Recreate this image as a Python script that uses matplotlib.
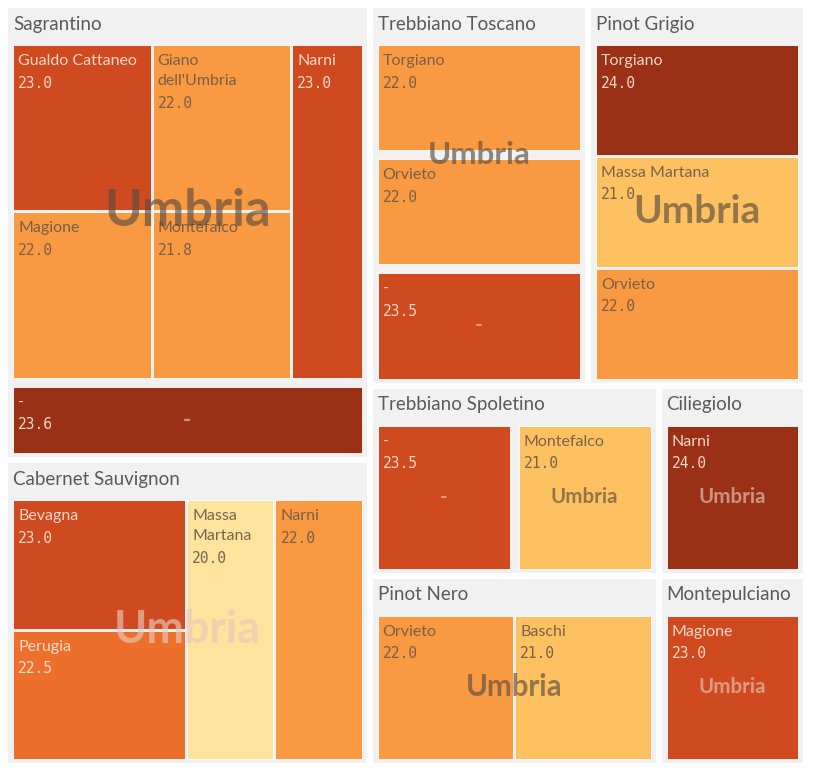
import matplotlib
matplotlib.use("Agg")
import matplotlib.pyplot as plt
from matplotlib.patches import Rectangle
from matplotlib.colors import ListedColormap, BoundaryNorm, to_rgb
import numpy as np

# ---- data: grape > region > town, value shown in each cell ----
grapes = ["Sagrantino", "Cabernet Sauvignon", "Trebbiano Toscano", "Pinot Grigio",
          "Trebbiano Spoletino", "Ciliegiolo", "Pinot Nero", "Montepulciano"]

cell_grape = ["Sagrantino", "Sagrantino", "Sagrantino", "Sagrantino", "Sagrantino", "Sagrantino",
              "Cabernet Sauvignon", "Cabernet Sauvignon", "Cabernet Sauvignon", "Cabernet Sauvignon",
              "Trebbiano Toscano", "Trebbiano Toscano", "Trebbiano Toscano",
              "Pinot Grigio", "Pinot Grigio", "Pinot Grigio",
              "Trebbiano Spoletino", "Trebbiano Spoletino",
              "Ciliegiolo",
              "Pinot Nero", "Pinot Nero",
              "Montepulciano"]
cell_region = ["Umbria", "Umbria", "Umbria", "Umbria", "Umbria", "-",
               "Umbria", "Umbria", "Umbria", "Umbria",
               "Umbria", "Umbria", "-",
               "Umbria", "Umbria", "Umbria",
               "-", "Umbria",
               "Umbria",
               "Umbria", "Umbria",
               "Umbria"]
cell_town = ["Gualdo Cattaneo", "Giano dell'Umbria", "Magione", "Montefalco", "Narni", "-",
             "Bevagna", "Perugia", "Massa Martana", "Narni",
             "Torgiano", "Orvieto", "-",
             "Torgiano", "Massa Martana", "Orvieto",
             "-", "Montefalco",
             "Narni",
             "Orvieto", "Baschi",
             "Magione"]
cell_value = [23.0, 22.0, 22.0, 21.8, 23.0, 23.6,
              23.0, 22.5, 20.0, 22.0,
              22.0, 22.0, 23.5,
              24.0, 21.0, 22.0,
              23.5, 21.0,
              24.0,
              22.0, 21.0,
              23.0]
cell_size = [1] * len(cell_town)   # every town counts once

# ---- layout (split orientation only, sizes come from cell_size) ----
GROUP_TREE = ("h", [("v", ["Sagrantino", "Cabernet Sauvignon"]),
                    ("v", [("h", ["Trebbiano Toscano", "Pinot Grigio"]),
                           ("h", [("v", ["Trebbiano Spoletino", "Pinot Nero"]),
                                  ("v", ["Ciliegiolo", "Montepulciano"])])])])
CELL_TREE = {
    "Sagrantino": ("v", [("h", [("v", [("h", ["Gualdo Cattaneo", "Giano dell'Umbria"]),
                                       ("h", ["Magione", "Montefalco"])]),
                                "Narni"]), "-"]),
    "Cabernet Sauvignon": ("h", [("v", ["Bevagna", "Perugia"]), "Massa Martana", "Narni"]),
    "Trebbiano Toscano": ("v", ["Torgiano", "Orvieto", "-"]),
    "Pinot Grigio": ("v", ["Torgiano", "Massa Martana", "Orvieto"]),
    "Trebbiano Spoletino": ("h", ["-", "Montefalco"]),
    "Ciliegiolo": "Narni",
    "Pinot Nero": ("h", ["Orvieto", "Baschi"]),
    "Montepulciano": "Magione",
}
# region labels drawn in a light tone (the rest are dark)
LIGHT_REGION_LABELS = {("Cabernet Sauvignon", "Umbria"), ("Ciliegiolo", "Umbria"),
                       ("Montepulciano", "Umbria")}

# binned colour classes
bounds = [19.5, 20.5, 21.5, 22.25, 22.75, 23.55, 24.5]
cmap = ListedColormap(["#fde39c", "#fec162", "#f99a42", "#ec6f2c", "#cf4a1e", "#9a3116"])
norm = BoundaryNorm(bounds, cmap.N)

W, H = 821, 779
fig = plt.figure(figsize=(W / 100, H / 100), dpi=100)
ax = fig.add_axes([0, 0, 1, 1])
ax.set_xlim(0, W)
ax.set_ylim(H, 0)
ax.axis("off")
renderer = fig.canvas.get_renderer()

NAME_FONT = "Lato"
NAME_FS = 11.5


def leaves(node):
    if isinstance(node, str):
        return [node]
    return [l for k in node[1] for l in leaves(k)]


def split(node, x, y, w, h, weight, gap, out):
    if isinstance(node, str):
        out[node] = (x, y, w, h)
        return
    orient, kids = node
    ws = [sum(weight(l) for l in leaves(k)) for k in kids]
    g = gap(node)
    avail = (w if orient == "h" else h) - g * (len(kids) - 1)
    pos = x if orient == "h" else y
    for k, wk in zip(kids, ws):
        size = avail * wk / sum(ws)
        if orient == "h":
            split(k, pos, y, size, h, weight, gap, out)
        else:
            split(k, x, pos, w, size, weight, gap, out)
        pos += size + g


def text_w(s, **kw):
    t = ax.text(0, 0, s, **kw)
    bb = t.get_window_extent(renderer)
    t.remove()
    return bb.width


def is_dark(c):
    r, g, b = to_rgb(c)
    return 0.2126 * r + 0.7152 * g + 0.0722 * b < 0.6


grape_count = {g: sum(cell_size[i] for i in range(len(cell_town)) if cell_grape[i] == g) for g in grapes}
group_rects = {}
split(GROUP_TREE, 8, 8, 795, 755, lambda g: grape_count[g], lambda n: 6, group_rects)

HEADER = 37
umbria_w10 = text_w("Umbria", fontsize=10, fontweight="bold", family=NAME_FONT)

for g in grapes:
    gx, gy, gw, gh = group_rects[g]
    ax.add_patch(Rectangle((gx, gy), gw, gh, facecolor="#f1f1f1", edgecolor="none"))
    ax.text(gx + 5, gy + 16, g, fontsize=13.5, color="#5a5a5a", va="center", ha="left",
            family=NAME_FONT)

    idx = [i for i in range(len(cell_town)) if cell_grape[i] == g]
    by_town = {cell_town[i]: i for i in idx}

    def gap_of(node):
        regs = {cell_region[by_town[t]] for t in leaves(node)}
        return 9 if len(regs) > 1 else 2

    rects = {}
    split(CELL_TREE[g], gx + 5, gy + HEADER, gw - 10, gh - HEADER - 4,
          lambda t: cell_size[by_town[t]], gap_of, rects)

    for t, (x, y, w, h) in rects.items():
        i = by_town[t]
        col = cmap(norm(cell_value[i]))
        ax.add_patch(Rectangle((x, y), w, h, facecolor=col, edgecolor="white", linewidth=0.6))
        tc = "#fbe3d8" if is_dark(col) else "#6e5a48"
        # wrap the town name to the cell width
        lines = []
        for wd in t.split(" "):
            cand = (lines[-1] + " " + wd) if lines else wd
            if lines and text_w(cand, fontsize=NAME_FS, family=NAME_FONT) > w - 15:
                lines.append(wd)
            elif lines:
                lines[-1] = cand
            else:
                lines.append(wd)
        ax.text(x + 5, y + 9, "\n".join(lines), fontsize=NAME_FS, color=tc, va="top", ha="left",
                family=NAME_FONT, linespacing=1.55, alpha=0.92)
        ax.text(x + 5, y + 10 + 20.5 * len(lines), f"{cell_value[i]:.1f}", fontsize=10.5,
                color=tc, va="top", ha="left", family="DejaVu Sans Mono", alpha=0.92)

    # region labels in the middle of each region
    for reg in dict.fromkeys(cell_region[i] for i in idx):
        towns = [cell_town[i] for i in idx if cell_region[i] == reg]
        x0 = min(rects[t][0] for t in towns)
        y0 = min(rects[t][1] for t in towns)
        x1 = max(rects[t][0] + rects[t][2] for t in towns)
        y1 = max(rects[t][1] + rects[t][3] for t in towns)
        light = reg == "-" or (g, reg) in LIGHT_REGION_LABELS
        fs = 10 * 0.49 * np.sqrt((x1 - x0) * (y1 - y0)) / umbria_w10
        ax.text((x0 + x1) / 2, (y0 + y1) / 2, reg, fontsize=fs, fontweight="bold",
                family=NAME_FONT, color="#e6c8bc" if light else "#5c4c3e", alpha=0.65,
                ha="center", va="center")

fig.savefig("out.png", dpi=100, facecolor="white")
